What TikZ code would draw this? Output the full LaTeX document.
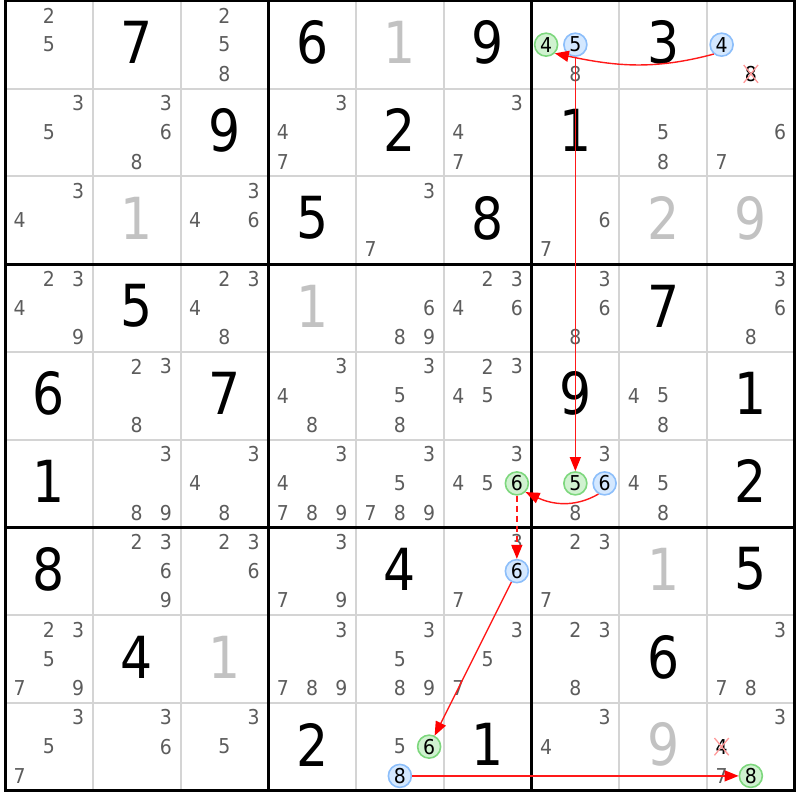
\documentclass[tikz,border=0pt]{standalone}
\usepackage{fontspec}
\setmainfont{DejaVu Sans}[FakeStretch=0.87]
\newfontfamily\candfont{DejaVu Sans}[FakeStretch=0.92]
\usepackage{tikz}
\usetikzlibrary{arrows.meta,shapes.misc}
\definecolor{onring}{RGB}{125,215,125}
\definecolor{onfill}{RGB}{208,242,208}
\definecolor{offring}{RGB}{140,190,250}
\definecolor{offfill}{RGB}{212,232,255}

\begin{document}
\begin{tikzpicture}[x=87.75pt,y=87.75pt]
    \tikzstyle{thin line}=[draw=black!17,line width=2pt]
    \tikzstyle{box line}=[draw=black,line width=3pt]
    \tikzstyle{given}=[inner sep=0,yshift=2pt,font=\fontsize{58}{58}\selectfont]
    \tikzstyle{solved}=[given,text=black!24]
    \tikzstyle{cand}=[inner sep=0,text=black!64,font=\candfont\fontsize{20.5}{20.5}\selectfont]
    \tikzstyle{on cand}=[cand,circle,text=black,line width=1.6pt,minimum size=23pt,draw=onring,fill=onfill]
    \tikzstyle{off cand}=[on cand,draw=offring,fill=offfill]
    \tikzstyle{gone cand}=[cand,cross out,text=black,inner sep=0.5pt,line width=1.3pt,draw=red!40]
    \tikzstyle{link}=[draw=red!90,line width=1.4pt,-{Triangle[red,length=14pt,width=11pt]}]

    \useasboundingbox (-0.057,-0.108) rectangle (9.060,9.009);

    % grid
    \draw[thin line,step=87.75pt] (0,0) grid (9,9);
    \draw[box line] (3,0) -- (3,9) (6,0) -- (6,9) (0,3) -- (9,3) (0,6) -- (9,6);
    \draw[box line] (0,0) rectangle (9,9);

    % big digits
    \foreach \r/\c/\v/\s in {1/2/7/given,1/4/6/given,1/5/1/solved,1/6/9/given,1/8/3/given,
        2/3/9/given,2/5/2/given,2/7/1/given,3/2/1/solved,3/4/5/given,3/6/8/given,3/8/2/solved,3/9/9/solved,
        4/2/5/given,4/4/1/solved,4/8/7/given,5/1/6/given,5/3/7/given,5/7/9/given,5/9/1/given,
        6/1/1/given,6/9/2/given,7/1/8/given,7/5/4/given,7/8/1/solved,7/9/5/given,
        8/2/4/given,8/3/1/solved,8/8/6/given,9/4/2/given,9/6/1/given,9/8/9/solved}
        \node(r\r c\c)[\s] at (\c-0.5,9.5-\r) {\v};

    % pencil marks
    \foreach \r/\c/\ds in {1/1/{2,5},1/3/{2,5,8},1/7/{8},2/1/{3,5},2/2/{3,6,8},2/4/{3,4,7},2/6/{3,4,7},
        2/8/{5,8},2/9/{6,7},3/1/{3,4},3/3/{3,4,6},3/5/{3,7},3/7/{6,7},
        4/1/{2,3,4,9},4/3/{2,3,4,8},4/5/{6,8,9},4/6/{2,3,4,6},4/7/{3,6,8},4/9/{3,6,8},
        5/2/{2,3,8},5/4/{3,4,8},5/5/{3,5,8},5/6/{2,3,4,5},5/8/{4,5,8},
        6/2/{3,8,9},6/3/{3,4,8},6/4/{3,4,7,8,9},6/5/{3,5,7,8,9},6/6/{3,4,5},6/7/{3,8},6/8/{4,5,8},
        7/2/{2,3,6,9},7/3/{2,3,6},7/4/{3,7,9},7/6/{3,7},7/7/{2,3,7},
        8/1/{2,3,5,7,9},8/4/{3,7,8,9},8/5/{3,5,8,9},8/6/{3,5,7},8/7/{2,3,8},8/9/{3,7,8},
        9/1/{3,5,7},9/2/{3,6},9/3/{3,5},9/5/{5},9/7/{3,4},9/9/{3,7}}
        \foreach \d in \ds
            \node(r\r c\c d\d)[cand] at ({\c-1+(mod(\d-1,3)+0.5)/3},{10-\r-(div(\d-1,3)+0.5)/3}) {\d};

    % marked pencil marks
    \foreach \r/\c/\d/\s in {1/7/4/on cand,1/7/5/off cand,1/9/4/off cand,1/9/8/gone cand,
        6/6/6/on cand,6/7/5/on cand,6/7/6/off cand,7/6/6/off cand,
        9/5/6/on cand,9/5/8/off cand,9/9/4/gone cand,9/9/8/on cand}
        \node(r\r c\c d\d)[\s] at ({\c-1+(mod(\d-1,3)+0.5)/3},{10-\r-(div(\d-1,3)+0.5)/3}) {\d};

    % chain
    \draw[link] (r1c9d4.230) to[out=195,in=-12] (r1c7d4.-45);
    \draw[link] (r1c7d5) -- (r6c7d5);
    \draw[link] (r6c7d6.240) to[out=210,in=-25] (r6c6d6.-45);
    \draw[link,dash pattern=on 6pt off 4pt] (r6c6d6) -- (r7c6d6);
    \draw[link] (r7c6d6) -- (r9c5d6);
    \draw[link] (r9c5d8) -- (r9c9d8);
\end{tikzpicture}
\end{document}
